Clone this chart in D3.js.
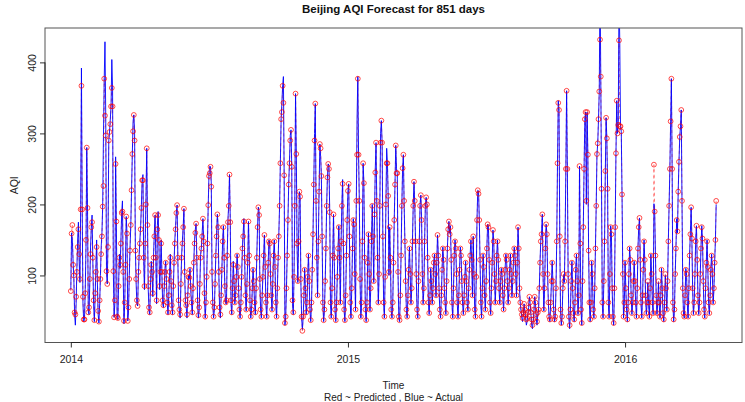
<!DOCTYPE html>
<html><head><meta charset="utf-8">
<script src="https://cdn.jsdelivr.net/npm/d3@7"></script>
<style>body{margin:0;background:#fff}svg{display:block}text{font-family:"Liberation Sans",Arial,Helvetica,sans-serif}</style>
</head><body>
<script>
const title = "Beijing AQI Forecast for 851 days";
const xLabel = "Time";
const subLabel = "Red ~ Predicted , Blue ~ Actual";
const yLabel = "AQI";
const startDate = "2014-01-01";
const xTickLabels = ["2014", "2015", "2016"];
const yTicks = [100, 200, 300, 400];

const actual = [
80,160,150,120,95,45,30,60,110,150,175,120,90,200,392,195,60,35,38,80,140,280,195,50,45,90,140,168,185,120,60,
35,70,110,150,90,45,33,60,100,140,160,200,297,377,429,325,106,88,150,290,302,320,338,404,364,106,41,60,
267,176,40,38,90,130,110,150,188,205,100,32,60,120,183,159,36,50,100,140,170,220,271,317,326,303,140,90,60,57,100,
130,150,170,200,234,242,120,80,150,210,279,171,80,50,45,90,120,100,70,130,160,185,120,60,170,190,150,80,110,150,
100,60,55,80,110,120,90,60,45,70,100,130,90,55,45,80,120,150,170,190,199,120,60,50,40,90,130,150,168,194,100,
60,55,40,70,100,95,110,80,60,45,80,120,150,165,173,120,60,40,50,90,130,140,160,180,150,70,40,60,100,150,
200,244,254,253,230,100,60,40,50,90,130,160,186,170,100,50,40,70,110,150,170,120,80,60,60,130,180,200,242,180,60,
45,80,120,90,60,70,100,130,110,80,50,40,60,100,140,160,180,120,70,50,90,120,176,130,60,40,50,80,110,90,60,
45,80,130,170,196,190,90,50,40,70,100,130,157,110,60,40,70,120,150,145,100,70,50,90,130,150,110,60,40,80,
120,160,200,260,320,343,367,380,241,30,40,80,130,180,230,260,297,305,253,60,45,100,200,356,271,140,90,150,218,211,90,
40,24,40,70,110,80,45,60,100,130,90,50,35,60,110,160,230,300,342,200,120,70,150,220,285,268,240,150,60,35,
50,90,140,200,240,257,255,190,60,40,80,130,186,120,50,35,60,100,140,170,120,60,150,200,235,140,50,35,70,130,180,
219,229,150,60,40,80,140,180,170,100,50,200,320,380,270,205,90,40,60,150,258,230,120,50,35,60,120,160,100,50,80,
150,200,150,90,186,250,287,200,120,60,100,200,300,318,287,150,60,40,100,200,279,258,212,100,168,120,50,40,
60,120,180,230,283,250,244,100,40,35,70,130,200,251,270,200,150,90,50,40,70,110,140,100,60,80,150,200,232,200,150,
100,50,40,90,150,200,213,180,100,60,80,150,200,210,200,120,60,45,70,110,90,60,80,120,130,100,70,120,157,130,
80,50,40,70,110,140,120,80,60,45,90,140,165,176,160,170,120,60,40,80,130,150,140,100,60,40,70,110,140,130,90,
60,45,70,100,120,90,60,50,80,110,130,150,120,70,155,100,50,40,100,180,220,219,180,120,60,40,80,130,110,70,
50,90,140,172,170,120,60,45,80,120,164,150,100,60,90,130,150,120,80,60,90,110,100,70,50,80,110,130,120,90,60,
80,110,130,100,70,90,120,140,130,100,70,120,168,140,80,60,50,40,35,45,60,50,40,30,35,45,55,70,60,45,30,
25,35,50,70,60,40,30,45,50,80,120,150,160,186,100,50,80,140,172,160,100,60,40,35,60,90,120,90,50,35,
40,80,150,258,346,333,150,50,30,40,80,100,90,150,250,360,250,100,40,25,50,90,120,80,45,35,60,110,130,90,45,
70,254,140,50,30,90,170,250,320,330,200,330,270,130,60,35,60,120,100,50,40,80,140,200,271,286,320,359,520,380,
222,60,40,90,150,247,322,293,222,60,40,100,170,160,80,40,30,80,170,272,346,300,310,500,431,310,303,214,100,40,60,
120,80,50,35,60,100,140,120,70,45,60,90,120,90,60,40,80,140,168,181,120,60,40,70,110,150,120,70,45,60,90,
60,40,80,130,100,60,45,201,190,130,70,45,60,90,60,40,70,110,80,45,35,60,100,80,50,90,150,200,250,
317,377,250,60,35,50,100,140,180,160,220,260,295,310,333,200,80,45,40,70,110,100,60,40,80,130,160,196,150,80,45,
60,100,150,170,120,70,45,60,100,140,170,150,90,50,40,80,120,150,110,60,45,70,110,130,100,60,80,120,150,200
];

const predicted = [
78,159,171,115,100,48,45,70,105,140,165,130,95,193,367,193,70,38,38,75,150,280,195,48,55,95,130,168,175,125,65,
37,75,105,140,95,50,35,65,95,130,155,197,226,377,325,297,106,88,140,290,302,313,338,364,338,106,41,65,
257,176,42,40,85,125,115,145,188,190,105,36,62,115,183,159,36,55,95,135,171,220,271,303,326,290,135,95,65,57,105,
125,145,165,195,234,234,125,85,145,200,279,171,85,55,48,95,115,105,75,125,155,185,125,65,165,185,150,85,105,145,
105,65,58,85,105,118,95,62,48,72,105,125,92,58,48,85,118,145,165,188,199,125,65,52,45,88,125,145,168,194,105,
65,58,45,72,98,97,108,85,62,48,82,118,145,160,173,125,65,44,55,88,125,138,155,180,148,75,42,62,98,145,
199,240,244,253,225,105,62,42,55,88,128,155,186,168,105,55,45,72,108,148,168,125,85,62,65,128,175,198,242,175,65,
48,82,115,92,62,72,98,128,112,82,52,42,62,98,138,155,176,125,72,52,88,118,176,128,65,42,52,82,108,92,62,
48,82,125,168,196,185,95,52,42,72,98,128,157,112,62,42,72,118,148,145,102,72,52,88,128,148,112,62,42,82,
125,155,198,258,320,330,367,343,241,33,42,82,128,178,228,258,290,305,253,65,48,98,198,356,271,145,92,148,218,211,95,
42,22,42,72,108,82,48,62,98,128,92,52,37,62,108,158,228,290,342,205,125,72,148,218,285,279,240,155,62,37,
52,92,138,198,238,257,250,189,62,42,82,128,186,125,52,37,62,98,138,168,125,62,148,198,229,145,52,37,72,128,178,
219,229,155,62,42,82,138,178,172,102,52,205,270,377,270,205,95,42,62,148,258,230,125,52,37,62,118,158,102,52,82,
148,198,155,92,186,245,287,205,125,62,102,198,287,318,287,155,62,42,98,200,258,258,212,105,168,125,52,42,
62,118,178,228,283,244,244,105,42,37,72,128,198,251,270,205,148,92,52,42,72,108,138,102,62,82,148,198,232,205,148,
102,52,42,92,148,198,213,178,102,62,82,148,198,210,200,125,62,47,72,108,92,62,82,118,128,102,72,118,157,128,
82,52,42,72,108,138,122,82,62,47,92,138,165,176,158,168,122,62,42,82,128,148,138,102,62,42,72,108,138,128,92,
62,47,72,98,118,92,62,52,82,108,128,148,122,72,155,102,52,42,98,178,220,215,178,122,62,42,82,128,112,72,
52,92,138,172,168,122,62,47,82,118,164,148,102,62,92,128,148,122,82,62,92,108,102,72,52,82,108,128,122,92,62,
82,108,128,102,72,92,118,138,128,102,72,118,168,138,82,62,52,45,40,48,60,52,45,38,40,48,55,70,62,48,38,
30,38,52,70,62,45,35,48,52,82,118,148,158,186,102,52,82,138,172,158,102,62,42,38,62,92,118,92,52,38,
42,82,148,258,343,333,155,52,33,42,82,102,92,148,250,360,250,102,42,30,52,92,118,82,47,38,62,108,128,92,47,
72,254,145,52,33,92,168,250,320,330,205,330,270,135,62,38,62,118,102,52,42,82,138,198,271,286,320,359,432,380,
222,62,42,92,148,247,322,293,222,62,42,102,168,158,82,42,33,82,168,272,346,300,312,431,310,310,303,214,102,42,62,
118,82,52,38,62,102,138,122,72,47,62,92,118,92,62,42,82,138,168,181,122,62,42,72,108,148,122,72,47,62,92,
62,42,82,128,102,62,47,256,190,128,72,47,62,92,62,42,72,108,82,47,38,62,102,82,52,92,148,198,250,
317,377,250,62,38,52,102,138,178,162,218,260,295,310,333,205,82,47,42,72,108,102,62,42,82,128,158,196,152,82,47,
62,102,148,170,122,72,47,62,102,138,168,152,92,52,42,82,118,148,112,62,47,72,108,128,102,62,82,118,150,205
];

const W = 745, H = 402;
const L = 45, R = 742, T = 28, B = 342.5;
const DAY = 86400000;
const t0 = new Date(startDate + "T00:00:00Z").getTime();
const n = actual.length;
const dates = d3.range(n).map(i => new Date(t0 + i * DAY));

const span = (n - 1) * DAY;
const x = d3.scaleUtc()
  .domain([new Date(t0 - 0.04 * span), new Date(t0 + 1.04 * span)])
  .range([L, R]);
const ext = d3.extent(predicted);
const pad = 0.04 * (ext[1] - ext[0]);
const y = d3.scaleLinear().domain([ext[0] - pad, ext[1] + pad]).range([B, T]);

const svg = d3.select("body").append("svg").attr("width", W).attr("height", H);
svg.append("defs").append("clipPath").attr("id", "clip")
  .append("rect").attr("x", L).attr("y", T).attr("width", R - L).attr("height", B - T);

const plot = svg.append("g").attr("clip-path", "url(#clip)");
const lineP = d3.line().x((d, i) => x(dates[i])).y(d => y(d));

plot.append("path").datum(predicted).attr("d", lineP)
  .attr("fill", "none").attr("stroke", "#ff0000").attr("stroke-width", 0.7)
  .attr("stroke-dasharray", "3,3").attr("opacity", 0.7);
plot.append("path").datum(actual).attr("d", lineP)
  .attr("fill", "none").attr("stroke", "#0000ff").attr("stroke-width", 1)
  .attr("opacity", 0.9);
plot.append("g").selectAll("circle").data(predicted).join("circle")
  .attr("cx", (d, i) => x(dates[i])).attr("cy", d => y(d)).attr("r", 2.4)
  .attr("fill", "none").attr("stroke", "#ff0000").attr("stroke-width", 0.7);

// box
svg.append("rect").attr("x", L).attr("y", T).attr("width", R - L).attr("height", B - T)
  .attr("fill", "none").attr("stroke", "#555").attr("stroke-width", 1);

// x axis
const xTickDates = xTickLabels.map(s => new Date(s + "-01-01T00:00:00Z"));
const xAxis = d3.axisBottom(x).tickValues(xTickDates).tickFormat(d3.utcFormat("%Y"))
  .tickSizeOuter(0).tickSizeInner(5).tickPadding(8);
const gx = svg.append("g").attr("transform", `translate(0,${B})`).call(xAxis);
gx.select(".domain").remove();
gx.append("line").attr("x1", x(xTickDates[0])).attr("x2", x(xTickDates[xTickDates.length - 1]))
  .attr("stroke", "#222");
gx.selectAll(".tick line").attr("stroke", "#333");
gx.selectAll("text").attr("font-size", 10.5).attr("fill", "#222").attr("font-family", "Liberation Sans, Arial, sans-serif");

// y axis
const yAxis = d3.axisLeft(y).tickValues(yTicks).tickSizeOuter(0).tickSizeInner(5).tickFormat(d3.format("d"));
const gy = svg.append("g").attr("transform", `translate(${L},0)`).call(yAxis);
gy.select(".domain").remove();
gy.append("line").attr("y1", y(yTicks[0])).attr("y2", y(yTicks[yTicks.length - 1])).attr("stroke", "#222");
gy.selectAll(".tick line").attr("stroke", "#333");
gy.selectAll(".tick text").attr("x", null).attr("dy", null)
  .attr("transform", "translate(-13,0) rotate(-90)")
  .attr("text-anchor", "middle").attr("dominant-baseline", "central")
  .attr("font-size", 10.5).attr("fill", "#222").attr("font-family", "Liberation Sans, Arial, sans-serif");

const cx = (L + R) / 2;
svg.append("text").attr("x", cx).attr("y", 13).attr("text-anchor", "middle")
  .attr("font-weight", "bold").attr("font-size", 11.5).attr("fill", "#111").text(title);
svg.append("text").attr("x", cx).attr("y", 389).attr("text-anchor", "middle")
  .attr("font-size", 10).attr("fill", "#222").text(xLabel);
svg.append("text").attr("x", cx).attr("y", 400.5).attr("text-anchor", "middle")
  .attr("font-size", 10).attr("fill", "#222").text(subLabel);
svg.append("text").attr("transform", `translate(14,${(T + B) / 2}) rotate(-90)`)
  .attr("text-anchor", "middle").attr("dominant-baseline", "central")
  .attr("font-size", 10.5).attr("fill", "#222").text(yLabel);
</script>
</body></html>
